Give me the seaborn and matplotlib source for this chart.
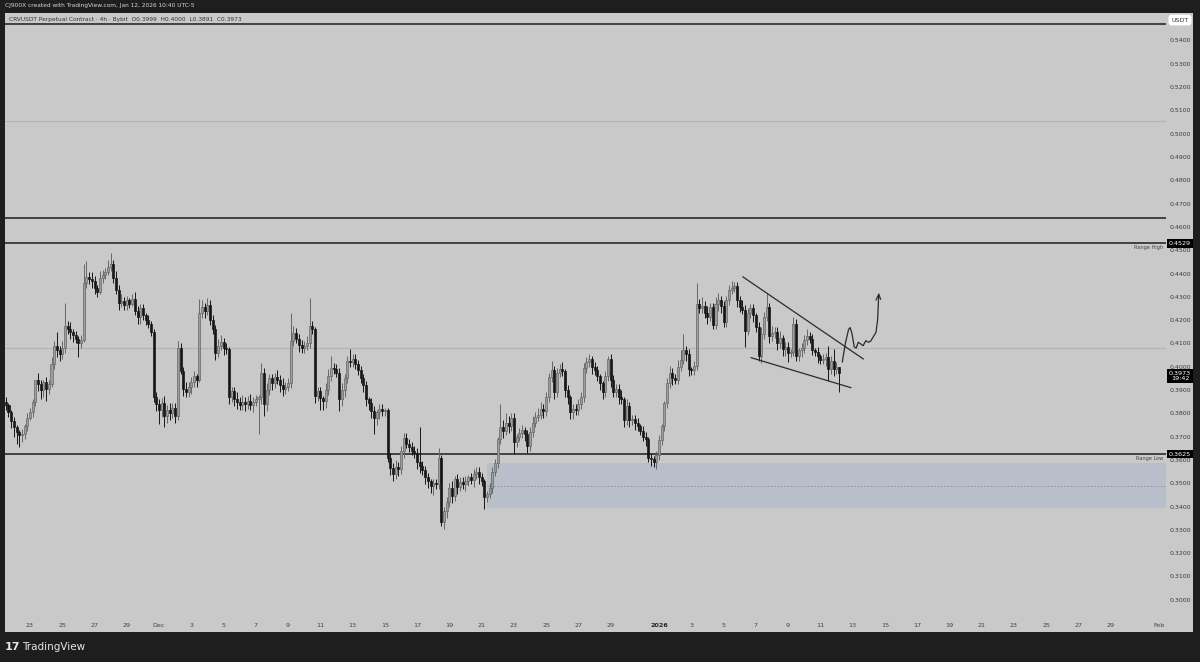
import numpy as np
import pandas as pd
import matplotlib
matplotlib.use("Agg")
import matplotlib.pyplot as plt
import matplotlib.dates as mdates
import matplotlib.transforms as mtransforms
from matplotlib.patches import Rectangle
import seaborn as sns

# ---- data: CRVUSDT perpetual, 4h candles ----
START = "2025-11-21 12:00"
first_open = 0.3850
closes = [
    0.3835, 0.3805, 0.3765, 0.3740, 0.3720, 0.3705, 0.3712, 0.3745, 0.3780, 0.3805,
    0.3850, 0.3945, 0.3925, 0.3900, 0.3935, 0.3905, 0.3925, 0.4010, 0.4090, 0.4070,
    0.4055, 0.4080, 0.4175, 0.4160, 0.4150, 0.4135, 0.4120, 0.4100, 0.4115, 0.4360,
    0.4385, 0.4375, 0.4370, 0.4340, 0.4320, 0.4380, 0.4395, 0.4405, 0.4430, 0.4440,
    0.4380, 0.4330, 0.4275, 0.4280, 0.4265, 0.4285, 0.4270, 0.4290, 0.4240, 0.4215,
    0.4250, 0.4220, 0.4200, 0.4185, 0.4150, 0.3870, 0.3840, 0.3815, 0.3845, 0.3790,
    0.3815, 0.3800, 0.3825, 0.3790, 0.4080, 0.3980, 0.3905, 0.3890, 0.3915, 0.3935,
    0.3960, 0.3945, 0.4230, 0.4255, 0.4240, 0.4265, 0.4200, 0.4160, 0.4060, 0.4090,
    0.4105, 0.4080, 0.4075, 0.3870, 0.3895, 0.3860, 0.3850, 0.3835, 0.3850, 0.3840,
    0.3855, 0.3835, 0.3850, 0.3860, 0.3870, 0.3975, 0.3840, 0.3900, 0.3950, 0.3930,
    0.3955, 0.3945, 0.3920, 0.3905, 0.3915, 0.3930, 0.4110, 0.4145, 0.4120, 0.4095,
    0.4080, 0.4090, 0.4100, 0.4175, 0.4160, 0.3875, 0.3895, 0.3865, 0.3855, 0.3900,
    0.3960, 0.3995, 0.3990, 0.3975, 0.3860, 0.3900, 0.3950, 0.4025, 0.4020, 0.4035,
    0.4010, 0.3985, 0.3950, 0.3920, 0.3860, 0.3845, 0.3810, 0.3780, 0.3805, 0.3820,
    0.3810, 0.3815, 0.3610, 0.3565, 0.3540, 0.3570, 0.3560, 0.3640, 0.3695, 0.3670,
    0.3655, 0.3640, 0.3630, 0.3590, 0.3575, 0.3555, 0.3525, 0.3510, 0.3490, 0.3500,
    0.3495, 0.3610, 0.3335, 0.3380, 0.3420, 0.3480, 0.3445, 0.3520, 0.3485, 0.3505,
    0.3495, 0.3510, 0.3525, 0.3515, 0.3540, 0.3550, 0.3525, 0.3510, 0.3440, 0.3455,
    0.3480, 0.3550, 0.3585, 0.3690, 0.3740, 0.3725, 0.3760, 0.3745, 0.3780, 0.3675,
    0.3700, 0.3715, 0.3730, 0.3710, 0.3660, 0.3720, 0.3760, 0.3785, 0.3795, 0.3820,
    0.3810, 0.3870, 0.3955, 0.3985, 0.3890, 0.3975, 0.3990, 0.3980, 0.3900, 0.3870,
    0.3805, 0.3820, 0.3815, 0.3840, 0.3870, 0.3995, 0.4020, 0.4035, 0.4000, 0.3985,
    0.3960, 0.3930, 0.3890, 0.3960, 0.4035, 0.3945, 0.3890, 0.3905, 0.3870, 0.3860,
    0.3770, 0.3830, 0.3770, 0.3775, 0.3760, 0.3745, 0.3725, 0.3700, 0.3690, 0.3610,
    0.3605, 0.3590, 0.3620, 0.3685, 0.3745, 0.3845, 0.3930, 0.3975, 0.3950, 0.3945,
    0.4000, 0.4030, 0.4070, 0.4055, 0.3990, 0.3985, 0.4005, 0.4270, 0.4250, 0.4260,
    0.4230, 0.4215, 0.4255, 0.4180, 0.4270, 0.4285, 0.4260, 0.4190, 0.4285, 0.4330,
    0.4340, 0.4345, 0.4285, 0.4255, 0.4245, 0.4155, 0.4230, 0.4250, 0.4220, 0.4170,
    0.4045, 0.4140, 0.4215, 0.4255, 0.4130, 0.4145, 0.4150, 0.4100, 0.4125, 0.4075,
    0.4085, 0.4060, 0.4065, 0.4185, 0.4045, 0.4070, 0.4080, 0.4115, 0.4130, 0.4120,
    0.4070, 0.4065, 0.4045, 0.4030, 0.4035, 0.4040, 0.3990, 0.4025, 0.3990, 0.3999,
    0.3973,
]
# wick lengths beyond the body, in units of 0.001
wick_up = [
    2, 1, 1, 2, 1, 1, 2, 1, 2, 2, 1, 0, 3, 2, 1, 2, 2, 3, 2, 6,
    2, 3, 10, 2, 3, 1, 2, 1, 2, 8, 7, 2, 3, 2, 1, 3, 2, 2, 3, 5,
    2, 3, 2, 3, 2, 2, 1, 2, 3, 2, 2, 2, 1, 2, 1, 1, 2, 2, 2, 3,
    2, 3, 2, 2, 3, 2, 2, 3, 2, 2, 2, 1, 6, 3, 2, 3, 2, 2, 2, 3,
    3, 2, 2, 1, 2, 2, 3, 2, 3, 2, 2, 3, 2, 2, 1, 4, 2, 3, 2, 2,
    2, 3, 2, 3, 2, 2, 12, 3, 2, 2, 2, 2, 3, 12, 2, 1, 2, 2, 1, 3,
    3, 5, 2, 2, 2, 3, 2, 2, 5, 2, 2, 2, 2, 2, 2, 1, 2, 2, 1, 2,
    2, 1, 1, 2, 2, 3, 2, 2, 2, 2, 2, 2, 2, 2, 15, 2, 2, 2, 1, 2,
    2, 4, 1, 2, 2, 2, 3, 1, 2, 2, 2, 2, 1, 2, 2, 2, 2, 2, 1, 1,
    2, 2, 2, 1, 10, 3, 4, 3, 2, 2, 1, 2, 2, 1, 2, 2, 3, 2, 3, 3,
    2, 2, 2, 4, 2, 2, 2, 3, 1, 2, 1, 2, 2, 2, 2, 2, 2, 2, 1, 2,
    2, 1, 1, 2, 1, 2, 2, 2, 2, 3, 1, 3, 2, 2, 2, 2, 1, 2, 2, 1,
    2, 1, 2, 2, 1, 1, 2, 3, 2, 2, 3, 4, 7, 2, 2, 1, 2, 9, 2, 4,
    2, 3, 2, 2, 3, 3, 2, 2, 2, 2, 3, 2, 2, 2, 3, 2, 2, 2, 2, 1,
    2, 3, 2, 6, 2, 3, 2, 2, 3, 1, 2, 2, 1, 3, 2, 1, 2, 2, 3, 2,
    2, 1, 2, 1, 2, 2, 5, 2, 5, 2, 0,
]
wick_dn = [
    2, 2, 3, 4, 5, 5, 3, 2, 2, 1, 2, 2, 3, 4, 3, 5, 2, 1, 2, 3,
    3, 2, 2, 2, 3, 3, 2, 6, 2, 1, 2, 2, 3, 3, 2, 1, 2, 2, 1, 2,
    2, 2, 3, 2, 2, 2, 2, 1, 2, 3, 3, 2, 2, 2, 2, 2, 3, 6, 3, 5,
    3, 3, 2, 3, 2, 1, 3, 2, 2, 3, 2, 3, 1, 2, 3, 2, 2, 2, 3, 2,
    2, 3, 2, 3, 2, 3, 3, 2, 2, 3, 2, 2, 3, 2, 15, 3, 5, 3, 2, 3,
    2, 2, 3, 3, 2, 2, 2, 2, 2, 3, 2, 2, 2, 2, 2, 3, 2, 5, 4, 3,
    2, 2, 2, 2, 5, 3, 3, 2, 2, 2, 2, 2, 2, 3, 3, 3, 3, 7, 3, 3,
    2, 2, 2, 3, 3, 2, 3, 2, 3, 2, 2, 2, 2, 3, 3, 2, 3, 3, 3, 4,
    2, 2, 2, 3, 3, 2, 3, 2, 3, 2, 2, 3, 2, 2, 3, 2, 3, 2, 5, 2,
    2, 2, 2, 2, 2, 3, 2, 3, 2, 5, 2, 2, 2, 3, 3, 2, 2, 2, 2, 2,
    3, 2, 2, 2, 3, 2, 2, 2, 3, 3, 3, 3, 2, 2, 2, 2, 2, 2, 3, 2,
    2, 3, 3, 2, 2, 3, 2, 2, 3, 2, 3, 2, 3, 2, 3, 2, 2, 2, 3, 2,
    3, 2, 3, 2, 2, 2, 2, 2, 3, 2, 2, 2, 2, 3, 3, 2, 2, 2, 2, 2,
    2, 3, 2, 2, 2, 3, 3, 2, 2, 2, 2, 2, 3, 2, 2, 7, 2, 2, 3, 2,
    2, 3, 2, 2, 3, 2, 2, 3, 2, 3, 3, 4, 2, 2, 2, 2, 3, 2, 2, 2,
    2, 2, 3, 2, 2, 3, 5, 2, 3, 2, 8,
]

# levels drawn on the chart
range_high = 0.4529
range_low = 0.3625
dark_levels = [0.5471, 0.4638]
faint_levels = [0.5055, 0.4080]
zone_top, zone_mid, zone_bottom = 0.3587, 0.3488, 0.3394
zone_start = "2025-12-21 08:00"
last_close = 0.3973
countdown = "19:42"

# falling wedge trendlines, x in days after 2026-01-01
wedge_upper_x = [5.19, 12.67]
wedge_upper_y = [0.4386, 0.4033]
wedge_lower_x = [5.70, 11.90]
wedge_lower_y = [0.4039, 0.3910]

# hand-drawn projection path
proj_x = [11.36, 11.55, 11.75, 11.85, 11.97, 12.10, 12.22, 12.35, 12.50, 12.65,
          12.82, 12.98, 13.12, 13.28, 13.45, 13.55, 13.62]
proj_y = [0.4020, 0.4100, 0.4160, 0.4168, 0.4140, 0.4085, 0.4080, 0.4105, 0.4098, 0.4090,
          0.4112, 0.4105, 0.4110, 0.4128, 0.4148, 0.4200, 0.4311]
arrow_x = [13.45, 13.62, 13.74]
arrow_y = [0.4286, 0.4311, 0.4289]

# time axis labels (days after 2026-01-01)
xtick_days = [-39, -37, -35, -33, -31, -29, -27, -25, -23, -21, -19, -17, -15, -13, -11,
              -9, -7, -5, -3, 0, 2, 4, 6, 8, 10, 12, 14, 16, 18, 20, 22, 24, 26, 28, 31]
xtick_labels = ["23", "25", "27", "29", "Dec", "3", "5", "7", "9", "11", "13", "15", "17",
                "19", "21", "23", "25", "27", "29", "2026", "3", "5", "7", "9", "11", "13",
                "15", "17", "19", "21", "23", "25", "27", "29", "Feb"]

# ---- style ----
W, H = 1200, 662
DARK = "#1e1e1e"
PANEL = "#c9c9c9"
UP = "#9c9c9c"
UP_EDGE = "#666666"
DOWN = "#161616"
LINE = "#2b2b2b"

sns.set_theme(style="white")
plt.rcParams["font.family"] = ["DejaVu Sans"]


def fx(px):
    return px / W


def fy(py):
    return 1 - py / H


fig = plt.figure(figsize=(W / 100, H / 100), dpi=100)
fig.patch.set_facecolor(DARK)
fig.patches.append(Rectangle((fx(5), fy(632)), fx(1188), 619 / H, transform=fig.transFigure,
                             facecolor=PANEL, edgecolor="none", zorder=-1))

ax = fig.add_axes([fx(5), fy(617), fx(1161), 604 / H])
ax.set_facecolor(PANEL)
for s in ax.spines.values():
    s.set_visible(False)

jan1 = mdates.date2num(pd.Timestamp("2026-01-01"))
t = mdates.date2num(pd.date_range(START, periods=len(closes), freq="4h"))
c = np.array(closes)
o = np.array([first_open] + closes[:-1])
top = np.maximum(o, c)
bot = np.minimum(o, c)
hi = top + np.array(wick_up) * 0.001
lo = bot - np.array(wick_dn) * 0.001
up = c >= o

# zone
zs = mdates.date2num(pd.Timestamp(zone_start))
ax.add_patch(Rectangle((zs, zone_bottom), jan1 + 40 - zs, zone_top - zone_bottom,
                       facecolor="#b9bfca", edgecolor="none", zorder=1))
ax.plot([zs, jan1 + 40], [zone_mid, zone_mid], color="#8d939c", lw=0.6,
        ls=(0, (2, 2)), zorder=1.2)

# levels
for lv in faint_levels:
    ax.axhline(lv, color="#b3b3b3", lw=0.8, zorder=1)
for lv in dark_levels + [range_high, range_low]:
    ax.axhline(lv, color=LINE, lw=1.2, zorder=2)

# candles
body_w = 0.125
ax.vlines(t[up], lo[up], hi[up], color=UP_EDGE, lw=0.7, zorder=3)
ax.vlines(t[~up], lo[~up], hi[~up], color=DOWN, lw=0.7, zorder=3)
h = np.maximum(top - bot, 0.0003)
ax.bar(t[up], h[up], bottom=bot[up], width=body_w, color=UP, edgecolor=UP_EDGE,
       linewidth=0.5, zorder=4)
ax.bar(t[~up], h[~up], bottom=bot[~up], width=body_w, color=DOWN, edgecolor=DOWN,
       linewidth=0.5, zorder=4)

# wedge + projection
for xs, ys in [(wedge_upper_x, wedge_upper_y), (wedge_lower_x, wedge_lower_y),
               (proj_x, proj_y), (arrow_x, arrow_y)]:
    sns.lineplot(x=jan1 + np.array(xs), y=ys, sort=False, estimator=None,
                 color=LINE, lw=0.9, ax=ax, zorder=5)

ax.set_xlim(jan1 - 40.55, jan1 + 31.43)
ax.set_ylim(0.2926, 0.5518)

# price axis
ax.yaxis.tick_right()
yt = np.round(np.arange(0.30, 0.5401, 0.01), 2)
ax.set_yticks(yt)
ax.set_yticklabels([f"{v:.4f}" for v in yt])
ax.tick_params(axis="y", length=0, pad=2.5, labelsize=4.5, labelcolor="#3a3a3a")

# time axis
ax.set_xticks(jan1 + np.array(xtick_days))
ax.set_xticklabels(xtick_labels)
ax.tick_params(axis="x", length=0, pad=4, labelsize=4.6, labelcolor="#444444")
for lab in ax.get_xticklabels():
    if lab.get_text() == "2026":
        lab.set_fontweight("bold")
        lab.set_color("#222222")
ax.set_xlabel("")
ax.set_ylabel("")
ax.grid(False)

# price tags on the right
tr = mtransforms.blended_transform_factory(ax.transAxes, ax.transData)
tag_x = (1180 - 5) / 1161
for val, txt in [(range_high, "0.4529"), (range_low, "0.3625")]:
    ax.text(tag_x, val, txt, transform=tr, ha="center", va="center", fontsize=4.6,
            color="white", clip_on=False, zorder=10,
            bbox=dict(boxstyle="square,pad=0.25", fc="black", ec="none"))
ax.text(tag_x, last_close - 0.0013, f"{last_close:.4f}\n{countdown}", transform=tr,
        ha="center", va="center", fontsize=4.6, color="white", linespacing=1.1,
        clip_on=False, zorder=10,
        bbox=dict(boxstyle="square,pad=0.25", fc="black", ec="none"))
lab_x = (1163 - 5) / 1161
ax.text(lab_x, range_high - 0.0017, "Range High", transform=tr, ha="right", va="center",
        fontsize=3.6, color="#444444", clip_on=False)
ax.text(lab_x, range_low - 0.0017, "Range Low", transform=tr, ha="right", va="center",
        fontsize=3.6, color="#444444", clip_on=False)

# header / legend / branding
fig.text(fx(5), fy(6), "CJ900X created with TradingView.com, Jan 12, 2026 10:40 UTC-5",
         ha="left", va="center", fontsize=4.2, color="#d6d6d6")
fig.text(fx(9), fy(20),
         "CRVUSDT Perpetual Contract · 4h · Bybit  O0.3999  H0.4000  L0.3891  C0.3973",
         ha="left", va="center", fontsize=4.2, color="#333333")
fig.text(fx(1180), fy(20), "USDT", ha="center", va="center", fontsize=4.6, color="#333333",
         bbox=dict(boxstyle="round,pad=0.45", fc="white", ec="none"))
fig.text(fx(5), fy(647), "17", ha="left", va="center", fontsize=8, fontweight="heavy",
         color="#e6e6e6")
fig.text(fx(22), fy(647), "TradingView", ha="left", va="center", fontsize=7.5,
         color="#e6e6e6")

fig.savefig("out.png", dpi=100, facecolor=fig.get_facecolor())
